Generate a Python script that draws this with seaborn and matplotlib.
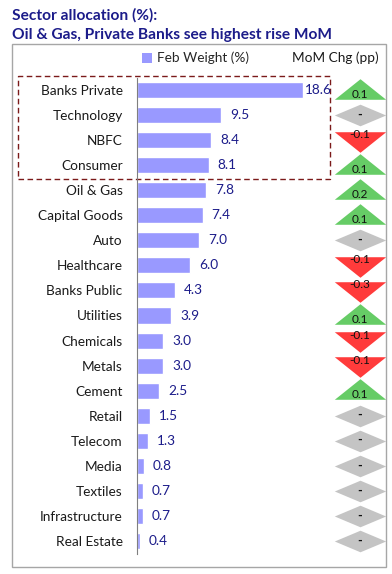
import matplotlib
matplotlib.use("Agg")
import matplotlib.pyplot as plt
import seaborn as sns
import pandas as pd
import numpy as np
from matplotlib.patches import Rectangle, Patch
from matplotlib.transforms import blended_transform_factory

sectors = ["Banks Private", "Technology", "NBFC", "Consumer", "Oil & Gas",
           "Capital Goods", "Auto", "Healthcare", "Banks Public", "Utilities",
           "Chemicals", "Metals", "Cement", "Retail", "Telecom", "Media",
           "Textiles", "Infrastructure", "Real Estate"]
feb_weight = [18.6, 9.5, 8.4, 8.1, 7.8, 7.4, 7.0, 6.0, 4.3, 3.9, 3.0, 3.0,
              2.5, 1.5, 1.3, 0.8, 0.7, 0.7, 0.4]
mom_chg = [0.1, 0.0, -0.1, 0.1, 0.2, 0.1, 0.0, -0.1, -0.3, 0.1, -0.1, -0.1,
           0.1, 0.0, 0.0, 0.0, 0.0, 0.0, 0.0]

df = pd.DataFrame({"sector": sectors, "weight": feb_weight, "mom": mom_chg})

sns.set_theme(style="white")
plt.rcParams["font.family"] = ["Lato", "DejaVu Sans"]

W, H = 392, 574
fig = plt.figure(figsize=(W / 100, H / 100), dpi=100)

def fx(px):
    return px / W

def fy(py):
    return 1 - py / H

TITLE_C = "#1c1c8a"
BAR_C = "#9999ff"
TXT_C = "#1a1a1a"

# title
fig.text(fx(12), fy(15), "Sector allocation (%):", ha="left", va="center",
         fontsize=11.2, fontweight="bold", color=TITLE_C)
fig.text(fx(12), fy(35), "Oil & Gas, Private Banks see highest rise MoM",
         ha="left", va="center", fontsize=11.2, fontweight="bold", color=TITLE_C)

# outer frame
fig.patches.append(Rectangle((fx(12), fy(567)), fx(386 - 12), (567 - 44) / H,
                             transform=fig.transFigure, fill=False,
                             edgecolor="#a6a6a6", linewidth=1.0))

# bar axes
top_px, bot_px = 77.5, 553.5
ax = fig.add_axes([fx(136.5), fy(bot_px), fx(315 - 136.5), (bot_px - top_px) / H])
sns.barplot(data=df, y="sector", x="weight", orient="h", color=BAR_C,
            saturation=1, width=0.64, ax=ax)
ax.set_xlim(0, 20)
ax.set_ylim(len(sectors) - 0.5, -0.5)
for s in ["top", "right", "bottom"]:
    ax.spines[s].set_visible(False)
ax.spines["left"].set_color("#7f7f7f")
ax.spines["left"].set_linewidth(0.8)
ax.set_xticks([])
ax.set_xlabel("")
ax.set_ylabel("")
ax.tick_params(axis="y", length=0, pad=10, labelsize=9.8, labelcolor=TXT_C)
ax.patch.set_alpha(0)

for i, v in enumerate(feb_weight):
    ax.annotate(f"{v:.1f}", (v, i), xytext=(2 if v > 15 else 6.5, 0),
                textcoords="offset points", ha="left", va="center",
                fontsize=9.8, color=TITLE_C)

# legend
ax.legend(handles=[Patch(facecolor=BAR_C, edgecolor="none", label="Feb Weight (%)")],
          loc="center left", bbox_to_anchor=(fx(142), fy(58)),
          bbox_transform=fig.transFigure, frameon=False, fontsize=9.8,
          handlelength=0.75, handleheight=0.75, handletextpad=0.35,
          borderaxespad=0, borderpad=0)
fig.text(fx(379), fy(58), "MoM Chg (pp)", ha="right", va="center",
         fontsize=9.8, color=TXT_C)

# dashed highlight box around top four rows
tr = blended_transform_factory(fig.transFigure, ax.transData)
ax.add_patch(Rectangle((fx(18), 3.55), fx(330 - 18), -4.1, transform=tr,
                       fill=False, edgecolor="#7b1a1a", linestyle=(0, (4, 2.5)),
                       linewidth=1.0, clip_on=False))

# MoM markers axes
mx = fig.add_axes([fx(335), fy(bot_px), fx(50), (bot_px - top_px) / H])
mx.set_xlim(-1, 1)
mx.set_ylim(len(sectors) - 0.5, -0.5)
mx.axis("off")

up = [(-1, -0.4), (1, -0.4), (0, 0.4), (-1, -0.4)]
down = [(-1, 0.4), (1, 0.4), (0, -0.4), (-1, 0.4)]
diamond = [(-1, 0), (0, 0.42), (1, 0), (0, -0.42), (-1, 0)]

ys = np.arange(len(sectors))
mom_arr = np.array(mom_chg)
pos = mom_arr > 0
neg = mom_arr < 0
zer = mom_arr == 0
size = 37 ** 2
mx.scatter(np.zeros(pos.sum()), ys[pos] - 0.06, marker=up, s=size, color="#66cc66", linewidths=0, clip_on=False)
mx.scatter(np.zeros(neg.sum()), ys[neg] + 0.06, marker=down, s=size, color="#ff3b3b", linewidths=0, clip_on=False)
mx.scatter(np.zeros(zer.sum()), ys[zer], marker=diamond, s=size, color="#c4c4c4", linewidths=0, clip_on=False)

for i, v in enumerate(mom_chg):
    if v > 0:
        mx.text(0, i + 0.17, f"{v:.1f}", ha="center", va="center", fontsize=8.5, color="#111111")
    elif v < 0:
        mx.text(0, i - 0.22, f"{v:.1f}", ha="center", va="center", fontsize=8.5, color="#111111")
    else:
        mx.text(0, i - 0.02, "-", ha="center", va="center", fontsize=9, fontweight="bold", color="#111111")

fig.savefig("out.png", dpi=100, facecolor="white")
